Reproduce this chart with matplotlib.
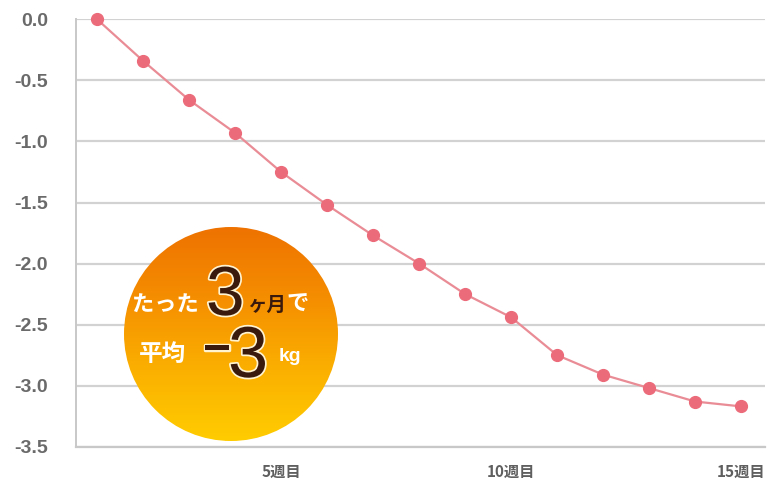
import numpy as np
import matplotlib.pyplot as plt
from matplotlib.patches import Circle
from matplotlib.colors import LinearSegmentedColormap
import matplotlib.patheffects as pe

plt.rcParams['font.family'] = ['Liberation Sans', 'Noto Sans CJK JP', 'DejaVu Sans']

weeks = list(range(1, 16))
weight_change = [0.0, -0.34, -0.66, -0.93, -1.25, -1.52, -1.77, -2.0,
                 -2.25, -2.44, -2.75, -2.91, -3.02, -3.13, -3.17]
yticks = [0.0, -0.5, -1.0, -1.5, -2.0, -2.5, -3.0, -3.5]
xticks = [5, 10, 15]
xlabels = ['5週目', '10週目', '15週目']

W, H = 771, 488
fig = plt.figure(figsize=(W / 100, H / 100), dpi=100)
fig.patch.set_facecolor('white')

# main chart
ax = fig.add_axes([76 / W, 41.3 / H, (765 - 76) / W, (446.7 - 19.4) / H])
ax.set_xlim(0.54, 15.52)
ax.set_ylim(-3.5, 0.0)
ax.set_yticks(yticks)
ax.set_yticklabels([f'{v:.1f}' for v in yticks], fontsize=14, color='#6a6a6a',
                   fontweight='bold')
ax.set_xticks(xticks)
ax.set_xticklabels(xlabels, fontsize=11, color='#5f5f5f', fontweight='bold',
                   family=['Noto Sans CJK JP', 'DejaVu Sans'])
ax.tick_params(axis='both', length=0)
ax.tick_params(axis='y', pad=20)
ax.tick_params(axis='x', pad=12)
ax.grid(axis='y', color='#d2d2d2', linewidth=1.6)
ax.set_axisbelow(True)
for s in ['top', 'right']:
    ax.spines[s].set_visible(False)
ax.spines['left'].set_color('#c8c8c8')
ax.spines['left'].set_linewidth(1.4)
ax.spines['bottom'].set_color('#c8c8c8')
ax.spines['bottom'].set_linewidth(1.6)

ax.plot(weeks, weight_change, color='#ea8c95', linewidth=1.6,
        marker='o', markersize=8.5, markerfacecolor='#ec6b7a',
        markeredgecolor='#ec6b7a', clip_on=False, zorder=3)

# badge overlay in pixel coordinates
ov = fig.add_axes([0, 0, 1, 1])
ov.axis('off')
ov.patch.set_alpha(0)

cx, cy, r = 231, 334, 107
grad = np.linspace(0, 1, 256).reshape(-1, 1)
cmap = LinearSegmentedColormap.from_list('badge', ['#ee7200', '#f58e00', '#fbb000', '#ffcc00'])
im = ov.imshow(grad, cmap=cmap, aspect='auto',
               extent=[cx - r, cx + r, cy + r, cy - r], zorder=5)
circ = Circle((cx, cy), r, transform=ov.transData)
im.set_clip_path(circ)
ov.set_xlim(0, W)
ov.set_ylim(H, 0)

brown = '#3a1a0c'
glow = [pe.withStroke(linewidth=2.5, foreground='#fff3d0')]
jp = ['Noto Sans CJK JP', 'DejaVu Sans']

ov.text(132, 311, 'たった', fontsize=16, color='white', fontweight='bold',
        family=jp, va='baseline', zorder=6)
ov.text(206, 315, '3', fontsize=50, color=brown, family=['Liberation Sans'],
        va='baseline', zorder=6, path_effects=glow)
ov.text(247, 311, 'ヶ月', fontsize=14, color=brown, fontweight='bold',
        family=jp, va='baseline', zorder=6)
ov.text(286, 311, 'で', fontsize=16, color='white', fontweight='bold',
        family=jp, va='baseline', zorder=6)
ov.text(139, 361, '平均', fontsize=17, color='white', fontweight='bold',
        family=jp, va='baseline', zorder=6)
ov.text(204, 360, '–', fontsize=34, color=brown, family=['Liberation Sans'],
        fontweight='bold', va='baseline', zorder=6, path_effects=glow)
ov.text(228, 377, '3', fontsize=52, color=brown, family=['Liberation Sans'],
        va='baseline', zorder=6, path_effects=glow)
ov.text(279, 361, 'kg', fontsize=14, color='white', fontweight='bold',
        family=['Liberation Sans'], va='baseline', zorder=6)

fig.savefig('out.png', dpi=100)
